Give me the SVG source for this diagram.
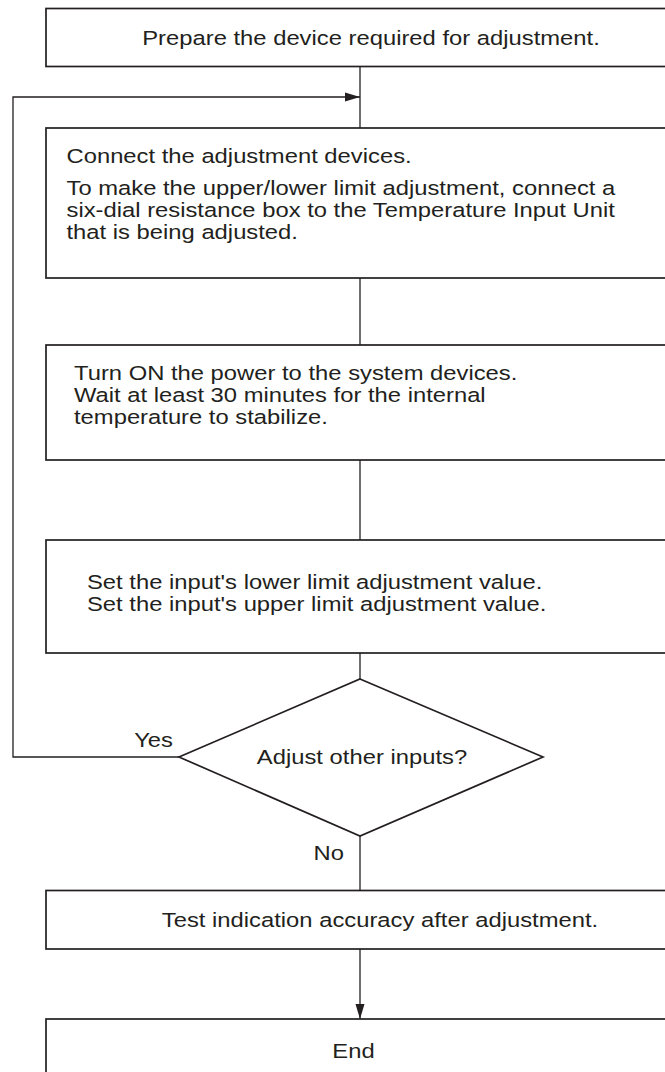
<svg xmlns="http://www.w3.org/2000/svg" width="665" height="1072" viewBox="0 0 665 1072">
<style>
.box{fill:#fff;stroke:#231f20;stroke-width:1.7}
.ln{fill:none;stroke:#231f20;stroke-width:1.3}
text{font-family:"Liberation Sans",Arial,Helvetica,sans-serif;font-size:19.5px;fill:#231f20}
.c{text-anchor:middle}
.e{text-anchor:end}
</style>
<defs>
<marker id="ah" markerWidth="15" markerHeight="10" refX="15" refY="5" orient="auto" markerUnits="userSpaceOnUse">
<path d="M0,0.5 L15,5 L0,9.5 Z" fill="#231f20"/>
</marker>
</defs>
<g id="connectors">
<line class="ln" x1="360" y1="66.5" x2="360" y2="128"/>
<polyline class="ln" points="179,757 13,757 13,97 360,97" marker-end="url(#ah)"/>
<line class="ln" x1="360" y1="278" x2="360" y2="345"/>
<line class="ln" x1="360" y1="460" x2="360" y2="540"/>
<line class="ln" x1="360" y1="653" x2="360" y2="679"/>
<line class="ln" x1="360" y1="836" x2="360" y2="890.5"/>
<line class="ln" x1="360" y1="949" x2="360" y2="1019" marker-end="url(#ah)"/>
<text class="e" transform="translate(173,747) scale(1.22,1)">Yes</text>
<text class="e" transform="translate(344,860) scale(1.22,1)">No</text>
</g>
<g id="n1"><rect class="box" x="46" y="8.5" width="630" height="58"/>
<text class="c" transform="translate(371,44.5) scale(1.22,1)">Prepare the device required for adjustment.</text></g>
<g id="n2"><rect class="box" x="46" y="128" width="630" height="150"/>
<text transform="translate(66.5,163) scale(1.22,1)">Connect the adjustment devices.</text>
<text transform="translate(66.5,195) scale(1.22,1)">To make the upper/lower limit adjustment, connect a</text>
<text transform="translate(66.5,217) scale(1.22,1)">six-dial resistance box to the Temperature Input Unit</text>
<text transform="translate(66.5,239) scale(1.22,1)">that is being adjusted.</text></g>
<g id="n3"><rect class="box" x="46" y="345" width="630" height="115"/>
<text transform="translate(74,380) scale(1.22,1)">Turn ON the power to the system devices.</text>
<text transform="translate(74,402) scale(1.22,1)">Wait at least 30 minutes for the internal</text>
<text transform="translate(74,424) scale(1.22,1)">temperature to stabilize.</text></g>
<g id="n4"><rect class="box" x="46" y="540" width="630" height="113"/>
<text transform="translate(87,589) scale(1.22,1)">Set the input's lower limit adjustment value.</text>
<text transform="translate(87,611) scale(1.22,1)">Set the input's upper limit adjustment value.</text></g>
<g id="n5"><polygon class="box" points="360,679 543,757 360,836 179,757"/>
<text class="c" transform="translate(362,764) scale(1.22,1)">Adjust other inputs?</text></g>
<g id="n6"><rect class="box" x="46" y="890.5" width="630" height="58.5"/>
<text class="c" transform="translate(380,927) scale(1.22,1)">Test indication accuracy after adjustment.</text></g>
<g id="n7"><rect class="box" x="46" y="1019" width="630" height="70"/>
<text class="c" transform="translate(353.5,1058) scale(1.22,1)">End</text></g>
</svg>
